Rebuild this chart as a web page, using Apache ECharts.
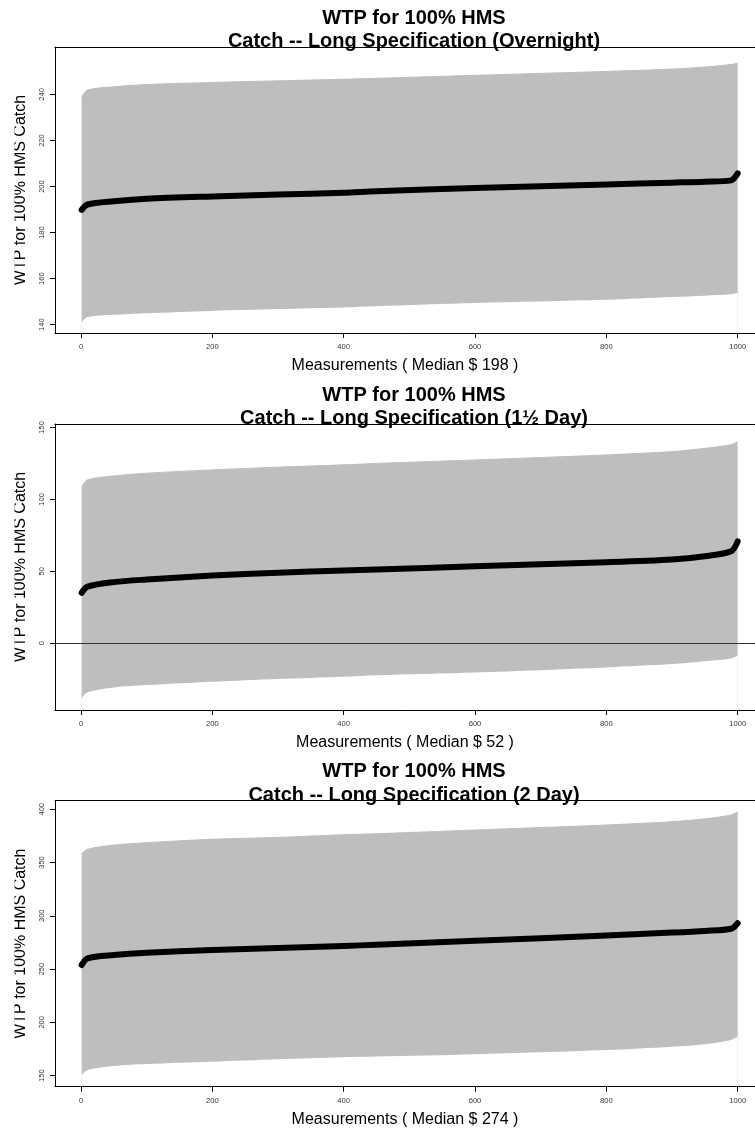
<!DOCTYPE html>
<html>
<head>
<meta charset="utf-8">
<script src="https://cdn.jsdelivr.net/npm/echarts@6/dist/echarts.min.js"></script>
<style>
  html, body { margin: 0; padding: 0; background: #fff; }
  #chart { width: 755px; height: 1131px; }
</style>
</head>
<body>
<div id="chart"></div>
<script>
var measureX = [1, 10, 50, 100, 200, 300, 400, 450, 600, 800, 900, 950, 990, 1000];
var xTicks = [0, 200, 400, 600, 800, 1000];

// Overnight
var upper1 = [238.8, 241.9, 243.3, 244.3, 245.2, 245.9, 246.6, 247.0, 248.3, 250.0, 251.0, 251.9, 253.0, 253.6];
var median1 = [189.9, 192.2, 193.6, 194.7, 195.7, 196.5, 197.3, 198.0, 199.4, 200.9, 201.7, 202.1, 202.7, 205.7];
var lower1 = [141.0, 143.3, 144.3, 145.0, 146.0, 146.8, 147.5, 148.0, 149.4, 150.8, 152.0, 152.6, 153.2, 153.9];
var yTicks1 = [140, 160, 180, 200, 220, 240];

// 1½ Day
var upper2 = [108.5, 113.6, 116.3, 118.2, 120.5, 122.4, 124.0, 125.0, 127.4, 130.9, 133.2, 135.5, 138.0, 140.1];
var median2 = [35.1, 39.3, 42.5, 44.3, 47.1, 49.0, 50.6, 51.2, 53.5, 56.3, 58.2, 60.5, 63.9, 70.8];
var lower2 = [-38.3, -34.1, -30.7, -29.1, -26.8, -24.9, -23.3, -22.2, -20.3, -16.8, -14.5, -12.5, -10.6, -8.3];
var yTicks2 = [0, 50, 100, 150];

// 2 Day
var upper3 = [358.0, 362.4, 366.4, 368.6, 371.8, 373.6, 376.1, 377.0, 380.5, 385.2, 388.3, 391.0, 394.6, 397.7];
var median3 = [253.8, 260.1, 263.2, 265.4, 267.9, 269.8, 271.7, 272.8, 276.5, 281.5, 284.2, 285.8, 287.8, 293.0];
var lower3 = [150.7, 155.3, 159.1, 161.0, 163.1, 165.4, 167.3, 167.9, 170.1, 174.1, 177.2, 179.5, 183.5, 186.6];
var yTicks3 = [150, 200, 250, 300, 350, 400];

var panels = [
  { sub: 'Overnight', median: 198, upper: upper1, mid: median1, lower: lower1, ticks: yTicks1, ymin: 136.4, ymax: 260.6, top: 47 },
  { sub: '1\u00bd Day', median: 52, upper: upper2, mid: median2, lower: lower2, ticks: yTicks2, ymin: -46.4, ymax: 152.4, top: 424, zero: true },
  { sub: '2 Day', median: 274, upper: upper3, mid: median3, lower: lower3, ticks: yTicks3, ymin: 139.6, ymax: 408, top: 800.7 }
];

var font = "'Liberation Sans', Arial, sans-serif";
var bandColor = '#bebebe';
// the plot box runs past the right edge of the picture
var xMin = -39.6, xMax = 1026.4;

function pairs (ys) {
  return measureX.map(function (x, i) { return [x, ys[i]]; });
}

var option = {
  animation: false,
  backgroundColor: '#fff',
  title: [],
  grid: [],
  xAxis: [],
  yAxis: [],
  series: [],
  // the y label is clipped at the left edge in the original
  graphic: [{ type: 'rect', left: 0, top: 0, shape: { width: 14.5, height: 1131 }, style: { fill: '#fff' }, z: 100 }]
};

panels.forEach(function (p, k) {
  option.title.push({
    text: 'WTP for 100% HMS\nCatch -- Long Specification (' + p.sub + ')',
    left: 409,
    top: p.top - 45.5,
    textAlign: 'center',
    textStyle: { fontFamily: font, fontSize: 20, fontWeight: 'bold', color: '#000', lineHeight: 23.5 }
  });
  option.grid.push({ left: 55, top: p.top, right: 0, height: 286 });
  // bottom axis
  option.xAxis.push({
    type: 'value', gridIndex: k, min: xMin, max: xMax, z: 5,
    name: 'Measurements ( Median $ ' + p.median + ' )',
    nameLocation: 'middle', nameGap: 25,
    nameTextStyle: { fontFamily: font, fontSize: 16, color: '#000' },
    axisLine: { show: true, onZero: false, lineStyle: { color: '#000', width: 1 } },
    axisTick: { show: true, length: 5, lineStyle: { color: '#000' }, customValues: xTicks },
    axisLabel: {
      fontFamily: font, fontSize: 7.6, color: '#333', margin: 10, customValues: xTicks,
      formatter: function (v) { return String(v); }
    },
    splitLine: { show: false }
  });
  // top edge of the box
  option.xAxis.push({
    type: 'value', gridIndex: k, min: xMin, max: xMax, position: 'top', z: 5,
    axisLine: { show: true, onZero: false, lineStyle: { color: '#000', width: 1 } },
    axisTick: { show: false }, axisLabel: { show: false }, splitLine: { show: false }
  });
  option.yAxis.push({
    type: 'value', gridIndex: k, min: p.ymin, max: p.ymax, z: 5,
    name: 'WTP for 100% HMS Catch',
    nameLocation: 'middle', nameGap: 26, nameRotate: 90,
    nameTextStyle: { fontFamily: font, fontSize: 16, color: '#000' },
    axisLine: { show: true, onZero: false, lineStyle: { color: '#000', width: 1 } },
    axisTick: { show: true, length: 5, lineStyle: { color: '#000' }, customValues: p.ticks },
    axisLabel: { fontFamily: font, fontSize: 7.5, color: '#333', margin: 9, rotate: 90, customValues: p.ticks },
    splitLine: { show: false }
  });
  var xi = k * 2;
  // grey interval band: upper filled grey down to the axis, lower filled white
  option.series.push({
    type: 'line', xAxisIndex: xi, yAxisIndex: k,
    data: pairs(p.upper), symbol: 'none', smooth: 0.3,
    lineStyle: { width: 1, color: bandColor },
    areaStyle: { color: bandColor, opacity: 1, origin: 'start' }, silent: true
  });
  option.series.push({
    type: 'line', xAxisIndex: xi, yAxisIndex: k,
    data: pairs(p.lower), symbol: 'none', smooth: 0.3,
    lineStyle: { width: 0, opacity: 0 },
    areaStyle: { color: '#fff', opacity: 1, origin: 'start' }, silent: true
  });
  option.series.push({
    type: 'line', xAxisIndex: xi, yAxisIndex: k,
    data: pairs(p.mid), symbol: 'none', smooth: 0.3,
    lineStyle: { color: '#000', width: 6, cap: 'round', join: 'round' }, silent: true,
    markLine: p.zero ? {
      silent: true, symbol: 'none', label: { show: false },
      lineStyle: { color: '#333', width: 1, type: 'solid' },
      data: [{ yAxis: 0 }]
    } : undefined
  });
});

var chart = echarts.init(document.getElementById('chart'));
chart.setOption(option);
</script>
</body>
</html>
